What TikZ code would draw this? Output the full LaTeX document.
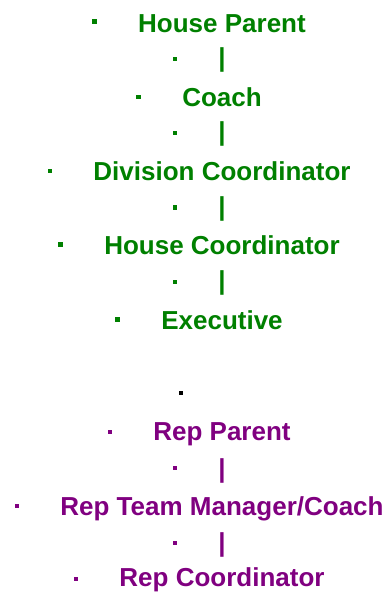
\documentclass[tikz,border=0pt]{standalone}
\usepackage{fontspec}
\setmainfont{Liberation Sans}
\usetikzlibrary{calc}
\definecolor{hgreen}{RGB}{0,128,0}
\definecolor{rpurple}{RGB}{128,0,128}
\newcommand\txtline[5]{% name, baseline y, bullet y, colour, text
  \node[item, text=#4] (#1) at (222,#2) {#5};
  \node[bulletdot, fill=#4] (#1b) at ($(#1.base west)+(-43.5,{#3-#2})$) {};
}
\begin{document}
\begin{tikzpicture}[x=1pt,y=-1pt,
  item/.style={inner sep=0pt, outer sep=0pt, anchor=base, font=\fontsize{26}{30}\selectfont\bfseries},
  bulletdot/.style={inner sep=0pt, outer sep=0pt, minimum size=4.6pt, draw=none, rectangle}]
\useasboundingbox (0,0) rectangle (391,592);
\txtline{hp}{32.3}{21.7}{hgreen}{House Parent}
\txtline{b1}{66.2}{59}{hgreen}{|}
\txtline{co}{106.7}{97}{hgreen}{Coach}
\txtline{b2}{140.2}{133}{hgreen}{|}
\txtline{dc}{180.3}{171}{hgreen}{Division Coordinator}
\txtline{b3}{215.2}{207.5}{hgreen}{|}
\txtline{hc}{254.2}{244.5}{hgreen}{House Coordinator}
\txtline{b4}{289.2}{282}{hgreen}{|}
\txtline{ex}{329}{319.3}{hgreen}{Executive}
\node[bulletdot, fill=black] (dot) at (181,393) {};
\txtline{rp}{440}{432}{rpurple}{Rep Parent}
\txtline{b5}{477.2}{468}{rpurple}{|}
\txtline{rt}{515.2}{506}{rpurple}{Rep Team Manager/Coach}
\txtline{b6}{551.2}{543}{rpurple}{|}
\txtline{rc}{586.3}{579}{rpurple}{Rep Coordinator}
\end{tikzpicture}
\end{document}
